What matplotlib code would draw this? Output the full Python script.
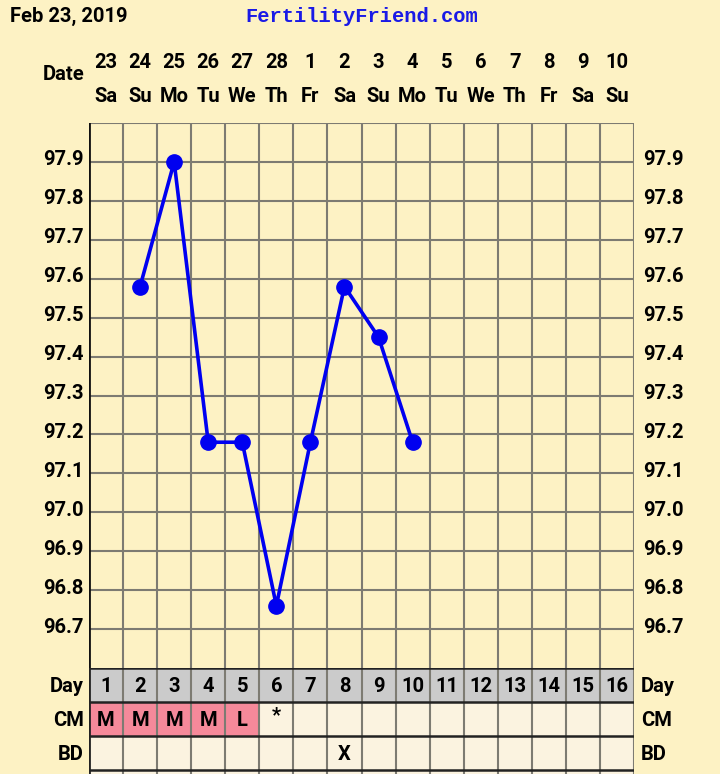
import matplotlib
matplotlib.use("Agg")
import matplotlib.pyplot as plt
from matplotlib.transforms import blended_transform_factory

plt.rcParams['font.family'] = ['Roboto', 'DejaVu Sans']
plt.rcParams['font.weight'] = 'bold'

# chart data
days = list(range(1, 17))
dates = ["23", "24", "25", "26", "27", "28", "1", "2", "3", "4", "5", "6", "7", "8", "9", "10"]
weekdays = ["Sa", "Su", "Mo", "Tu", "We", "Th", "Fr", "Sa", "Su", "Mo", "Tu", "We", "Th", "Fr", "Sa", "Su"]
temp_days = [2, 3, 4, 5, 6, 7, 8, 9, 10]
temps = [97.58, 97.90, 97.18, 97.18, 96.76, 97.18, 97.58, 97.45, 97.18]
temp_ticks = [97.9, 97.8, 97.7, 97.6, 97.5, 97.4, 97.3, 97.2, 97.1, 97.0, 96.9, 96.8, 96.7]
cm = ["M", "M", "M", "M", "L", "*", "", "", "", "", "", "", "", "", "", ""]
bd = ["", "", "", "", "", "", "", "X", "", "", "", "", "", "", "", ""]

BG = "#fdf2c4"
GRID = "#7d7b72"
CREAM = "#fbf3e0"
PINK = "#f5899a"
GRAY = "#cbcbcb"
BLUE = "#0000f0"
FS = 14.5

fig = plt.figure(figsize=(7.2, 7.74), dpi=100, facecolor=BG)

# temperature chart
left, right = 89 / 720, 634 / 720
ax = fig.add_axes([left, 1 - 668 / 774, right - left, (668 - 123) / 774])
ax.set_facecolor(BG)
ax.set_xlim(0.5, 16.5)
ax.set_ylim(96.6, 98.0)
for d in days[:-1]:
    ax.axvline(d + 0.5, color=GRID, lw=1.5, zorder=1)
for t in temp_ticks + [98.0]:
    ax.axhline(t, color=GRID, lw=1.5, zorder=1)
ax.axvline(16.5, color=GRID, lw=1.5, zorder=1)
ax.plot(temp_days, temps, color=BLUE, lw=2.6, marker="o", ms=11, zorder=3, clip_on=False)
ax.set_xticks([])
ax.set_yticks([])
for s in ax.spines.values():
    s.set_visible(False)
ax.axvline(0.5, color="#111111", lw=2, zorder=2)

ytr = blended_transform_factory(ax.transAxes, ax.transData)
for t in temp_ticks:
    ax.text(-0.010, t + 0.005, f"{t:.1f}", transform=ytr, ha="right", va="center", fontsize=FS)
    ax.text(1.016, t + 0.005, f"{t:.1f}", transform=ytr, ha="left", va="center", fontsize=FS)

# header
hdr = blended_transform_factory(ax.transData, fig.transFigure)
for d, dt, wd in zip(days, dates, weekdays):
    ax.text(d, 1 - 62 / 774, dt, transform=hdr, ha="center", va="center", fontsize=FS)
    ax.text(d, 1 - 97 / 774, wd, transform=hdr, ha="center", va="center", fontsize=FS)
fig.text(85 / 720, 1 - 74 / 774, "Date", ha="right", va="center", fontsize=FS)
fig.text(10 / 720, 1 - 16 / 774, "Feb 23, 2019", ha="left", va="center", fontsize=FS)
fig.text(362 / 720, 1 - 16 / 774, "FertilityFriend.com", ha="center", va="center", fontsize=14.8,
         family="Liberation Mono", color="#1a1ae6", weight="bold")

# table rows
tb = fig.add_axes([left, 0, right - left, 1 - 668 / 774 + 0.0005])
nrows = 106 / 34
tb.set_xlim(0.5, 16.5)
tb.set_ylim(nrows, 0)
tb.set_facecolor(CREAM)
tb.bar(days, 1, bottom=0, width=1, color=GRAY, zorder=1)
tb.bar(days, 1, bottom=1, width=1, color=[PINK if v in ("M", "L") else CREAM for v in cm], zorder=1)
tb.bar(days, 1, bottom=2, width=1, color=CREAM, zorder=1)
for d in days[:-1]:
    tb.axvline(d + 0.5, color=GRID, lw=1.5, zorder=2)
for r in [0, 1, 2, 3]:
    tb.axhline(r, color="#222222", lw=1.8, zorder=3)
tb.axvline(0.5, color="#222222", lw=2, zorder=3)
tb.axvline(16.5, color=GRID, lw=1.5, zorder=2)
tb.set_xticks([])
tb.set_yticks([])
for s in tb.spines.values():
    s.set_visible(False)
for d in days:
    tb.text(d, 0.55, str(d), ha="center", va="center", fontsize=FS, zorder=4)
    if cm[d - 1]:
        tb.text(d, 1.55 if cm[d - 1] != "*" else 1.4, cm[d - 1], ha="center", va="center", fontsize=FS, zorder=4)
    if bd[d - 1]:
        tb.text(d, 2.55, bd[d - 1], ha="center", va="center", fontsize=FS, zorder=4)
rtr = blended_transform_factory(tb.transAxes, tb.transData)
for r, lab in enumerate(["Day", "CM", "BD"]):
    tb.text(-0.01, r + 0.55, lab, transform=rtr, ha="right", va="center", fontsize=FS)
    tb.text(1.013, r + 0.55, lab, transform=rtr, ha="left", va="center", fontsize=FS)

fig.savefig("out.png", dpi=100, facecolor=BG)
